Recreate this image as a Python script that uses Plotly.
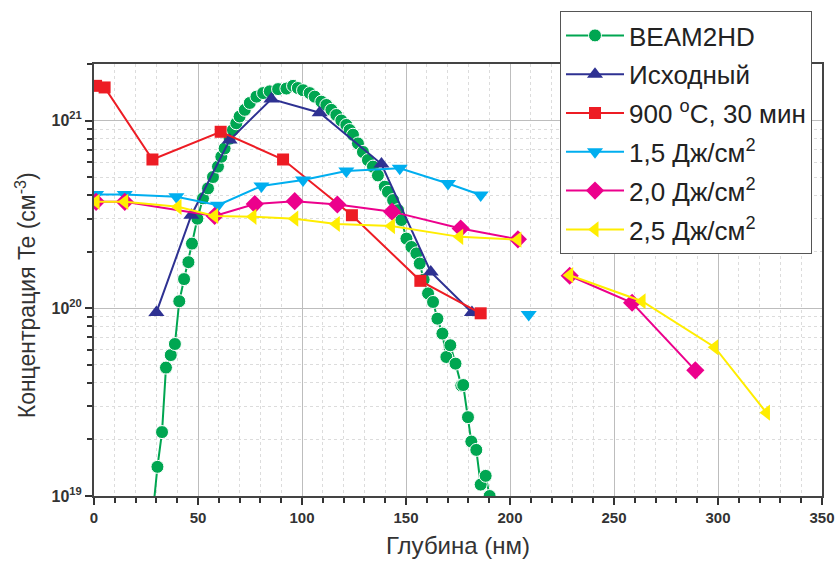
import plotly.graph_objects as go

# ---------------- data ----------------
beam_x = [28.7, 30.5, 32.7, 34.6, 36.9, 38.9, 41.0, 43.3, 45.4, 47.1, 49.7, 52.4, 54.8,
          57.2, 59.6, 61.2, 62.8, 65.2, 66.8, 68.4, 70.0, 72.5, 74.9, 78.1, 81.3, 84.5,
          88.5, 92.5, 95.7, 98.0, 100.5, 103.7, 106.1, 109.3, 111.7, 114.1, 116.5, 118.9,
          121.3, 122.9, 124.5, 126.9, 129.3, 131.7, 134.1, 136.5, 139.8, 141.3, 143.8,
          146.2, 147.8, 150.2, 152.6, 155.0, 156.6, 158.5, 160.6, 163.0, 165.1, 167.5,
          169.4, 171.3, 173.8, 176.6, 177.5, 179.8, 181.4, 183.8, 185.9, 188.3, 190.2]
beam_y = [9.0e18, 1.43e19, 2.19e19, 4.83e19, 5.63e19, 6.45e19, 1.09e20, 1.43e20, 1.76e20,
          2.21e20, 3.0e20, 3.85e20, 4.35e20, 5.0e20, 5.68e20, 6.41e20, 7.1e20, 8.0e20,
          8.9e20, 9.67e20, 1.05e21, 1.14e21, 1.24e21, 1.34e21, 1.40e21, 1.43e21, 1.47e21,
          1.48e21, 1.53e21, 1.49e21, 1.45e21, 1.40e21, 1.34e21, 1.26e21, 1.21e21, 1.14e21,
          1.07e21, 1.0e21, 9.47e20, 8.9e20, 8.4e20, 7.55e20, 6.8e20, 6.16e20, 5.68e20,
          5.1e20, 4.44e20, 4.17e20, 3.77e20, 3.33e20, 2.95e20, 2.35e20, 2.12e20, 1.96e20,
          1.73e20, 1.42e20, 1.20e20, 1.08e20, 8.8e19, 7.33e19, 5.5e19, 6.35e19, 5.07e19,
          3.88e19, 3.9e19, 2.63e19, 1.95e19, 1.76e19, 1.15e19, 1.28e19, 1.0e19]

ish_x = [30.0, 46.8, 65.2, 85.3, 108.5, 138.2, 161.9, 181.7]
ish_y = [9.5e19, 3.13e20, 7.87e20, 1.30e21, 1.10e21, 5.86e20, 1.56e20, 9.5e19]

t900_x = [1.0, 5.1, 28.1, 60.9, 90.9, 124.0, 156.9, 185.9]
t900_y = [1.53e21, 1.50e21, 6.2e20, 8.71e20, 6.2e20, 3.13e20, 1.40e20, 9.4e19]

j15_x = [1.0, 14.8, 39.6, 59.6, 80.5, 100.5, 121.3, 147.0, 170.2, 185.9, None, 209.0]
j15_y = [4.04e20, 4.04e20, 3.93e20, 3.54e20, 4.48e20, 4.82e20, 5.38e20, 5.56e20, 4.62e20,
         4.01e20, None, 9.25e19]

j20_x = [1.0, 14.8, 58.0, 77.3, 96.5, 117.0, 143.3, 176.3, 203.8, None, 228.7, 258.7, 289.1]
j20_y = [3.69e20, 3.69e20, 3.10e20, 3.59e20, 3.72e20, 3.57e20, 3.27e20, 2.66e20, 2.33e20,
         None, 1.49e20, 1.07e20, 4.67e19]

j25_x = [1.0, 14.8, 40.4, 58.0, 76.4, 96.5, 116.5, 143.0, 175.8, 203.8, None, 228.7, 263.5,
         298.4, 323.3]
j25_y = [3.69e20, 3.69e20, 3.47e20, 3.10e20, 3.07e20, 3.0e20, 2.81e20, 2.74e20, 2.40e20,
         2.32e20, None, 1.5e20, 1.09e20, 6.2e19, 2.78e19]

names = ["BEAM2HD", "Исходный", "900 <sup>o</sup>C, 30 мин",
         "1,5 Дж/см<sup>2</sup>", "2,0 Дж/см<sup>2</sup>", "2,5 Дж/см<sup>2</sup>"]

y_title = "Концентрация Te (см<sup>-3</sup>)"
x_title = "Глубина (нм)"

y_tickvals = [1e19, 1e20, 1e21]
y_ticktext = ["10<sup>19</sup>", "10<sup>20</sup>", "10<sup>21</sup>"]
x_tickvals = [0, 50, 100, 150, 200, 250, 300, 350]

# ---------------- figure ----------------
series = [
    (beam_x, beam_y, "#00A651", "circle", 13),
    (ish_x, ish_y, "#2E3192", "triangle-up", 14),
    (t900_x, t900_y, "#ED1C24", "square", 12),
    (j15_x, j15_y, "#00AEEF", "triangle-down", 14),
    (j20_x, j20_y, "#EC008C", "diamond", 14),
    (j25_x, j25_y, "#FFED00", "triangle-left", 14),
]

fig = go.Figure()
for i, (xs, ys, col, sym, sz) in enumerate(series):
    fig.add_trace(go.Scatter(
        x=xs, y=ys, name=names[i], mode="lines+markers",
        line=dict(color=col, width=2),
        marker=dict(color=col, symbol=sym, size=sz,
                    line=dict(color="white", width=1 if i == 0 else 0)),
        legendgroup="g%d" % i, connectgaps=False, cliponaxis=True,
    ))

minor_y = [float(m) * 10.0 ** e for e in (19, 20) for m in range(2, 10)] + [2e21]

tick_font = dict(family="Liberation Sans, Arial", size=15, color="#333", weight="bold")

fig.update_layout(
    width=836, height=563,
    margin=dict(l=94, r=14, t=64, b=67, autoexpand=False),
    paper_bgcolor="white", plot_bgcolor="white",
    showlegend=True,
    legend=dict(
        xref="container", yref="container",
        x=560 / 836, xanchor="left", y=1 - 11 / 563, yanchor="top",
        bgcolor="white", bordercolor="#555", borderwidth=1,
        font=dict(family="Liberation Sans, Arial", size=26, color="#222"),
        tracegroupgap=2, traceorder="grouped", itemwidth=58,
    ),
    xaxis=dict(
        range=[0, 350], tickvals=x_tickvals, ticks="outside", ticklen=7, tickwidth=1.5,
        tickcolor="#333", showline=True, linecolor="#444", linewidth=2, mirror=True,
        showgrid=True, gridcolor="#bdbdbd", gridwidth=1, zeroline=False,
        tickfont=tick_font, automargin=False,
        minor=dict(dtick=10, ticks="outside", ticklen=5, tickcolor="#333",
                   showgrid=True, gridcolor="#dcdcdc", griddash="dot", gridwidth=1),
        title=dict(text=x_title, standoff=12,
                   font=dict(family="Liberation Sans, Arial", size=24, color="#333")),
    ),
    yaxis=dict(
        type="log", range=[19, 21.301], tickvals=y_tickvals, ticktext=y_ticktext,
        ticks="outside", ticklen=7, tickwidth=1.5, tickcolor="#333",
        showline=True, linecolor="#444", linewidth=2, mirror=True,
        showgrid=True, gridcolor="#bdbdbd", gridwidth=1, zeroline=False,
        tickfont=dict(family="Liberation Sans, Arial", size=16, color="#333", weight="bold"),
        automargin=False,
        minor=dict(tickvals=minor_y, ticks="outside", ticklen=5, tickcolor="#333",
                   showgrid=True, gridcolor="#dcdcdc", griddash="dot", gridwidth=1),
    ),
    annotations=[dict(
        text=y_title, textangle=-90, showarrow=False,
        xref="paper", yref="paper", x=(26 - 94) / 728, y=(495.5 - 295) / 431.5,
        xanchor="center", yanchor="middle",
        font=dict(family="Liberation Sans, Arial", size=23, color="#333"),
    )],
)

fig.write_html("out.html")
